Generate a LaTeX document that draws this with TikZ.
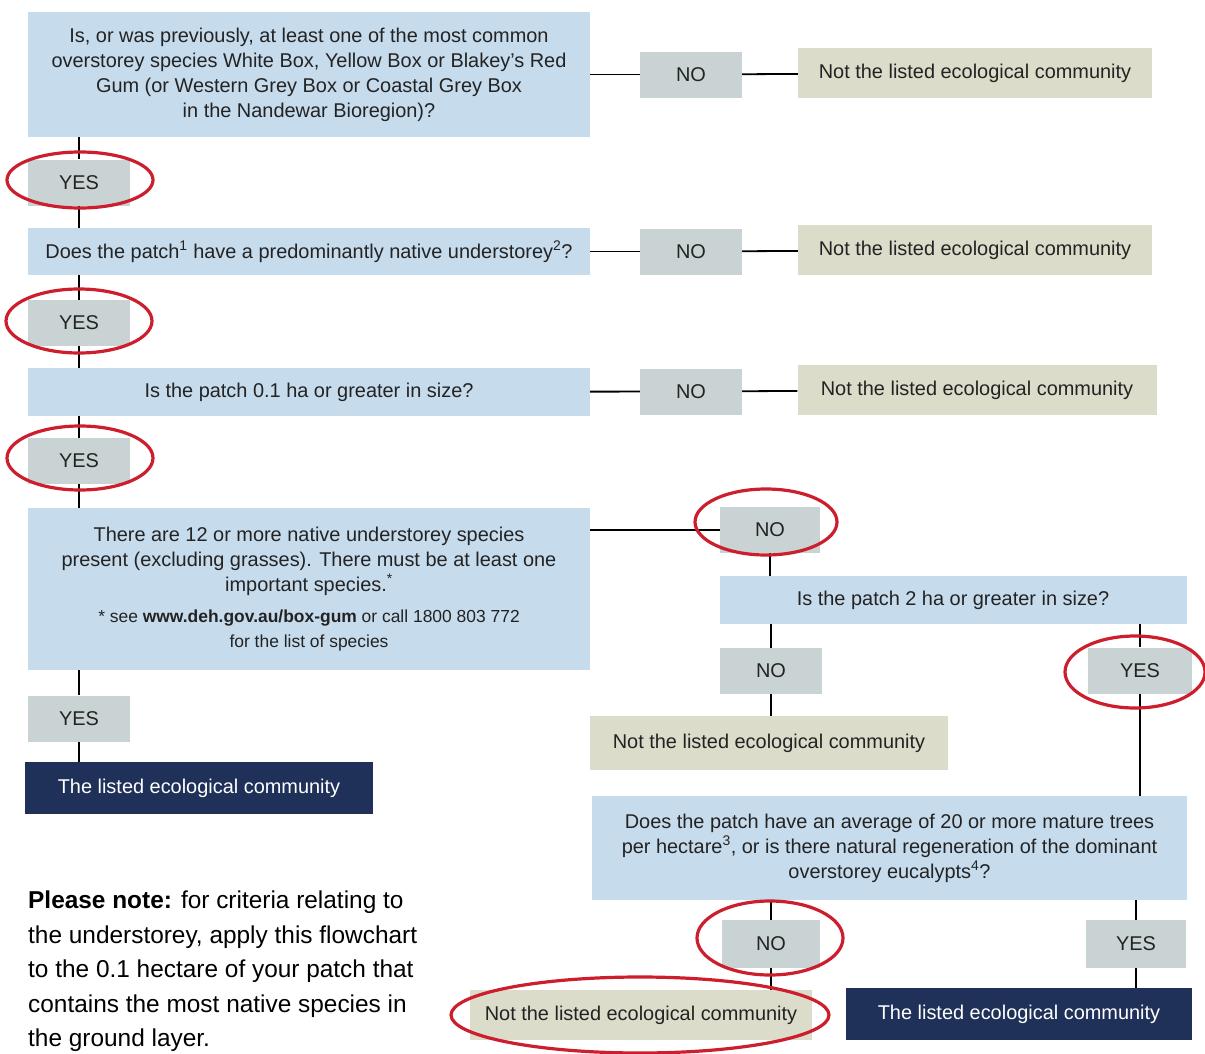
\documentclass[tikz,border=0pt]{standalone}
\usepackage{fontspec}
\setmainfont{Liberation Sans}
\definecolor{qblue}{RGB}{198,219,236}
\definecolor{ansgrey}{RGB}{201,211,211}
\definecolor{notkhaki}{RGB}{220,220,202}
\definecolor{listnavy}{RGB}{31,49,89}
\definecolor{ringred}{RGB}{204,30,45}
\definecolor{txtgrey}{RGB}{35,35,35}
\newcommand\boxsize{\fontsize{20}{25}\selectfont}
\newcommand\notesize{\fontsize{17.5}{23}\selectfont}
\newcommand\plsize{\fontsize{24.5}{34.6}\selectfont}
\begin{document}
\begin{tikzpicture}[line join=bevel,
  every node/.style={inner sep=0pt,text=txtgrey,font=\boxsize},
  qbox/.style={fill=qblue,align=center},
  ansbox/.style={fill=ansgrey,minimum width=102bp,minimum height=46bp},
  notbox/.style={fill=notkhaki,minimum height=50bp},
  listbox/.style={fill=listnavy,text=white,minimum height=52bp},
  ring/.style={draw=ringred,line width=3.2bp},
  link/.style={black,line width=1.8bp}]
\useasboundingbox (0bp,0bp) rectangle (1205bp,-1054bp);
%%
\node (q1) at (309bp,-74.5bp) [qbox,minimum width=562bp,minimum height=125bp] {Is, or was previously, at least one of the most common\\overstorey species White Box, Yellow Box or Blakey's Red\\Gum (or Western Grey Box or Coastal Grey Box\\in the Nandewar Bioregion)?};
  \node (no1) at (691bp,-74.5bp) [ansbox] {NO};
  \node (not1) at (975bp,-73bp) [notbox,minimum width=354bp] {Not the listed ecological community};
  \node (yes1) at (79bp,-182.5bp) [ansbox] {YES};
\node (q2) at (309bp,-251.5bp) [qbox,minimum width=562bp,minimum height=47bp] {Does the patch\textsuperscript{1} have a predominantly native understorey\textsuperscript{2}?};
  \node (no2) at (691bp,-251.5bp) [ansbox] {NO};
  \node (not2) at (975bp,-250bp) [notbox,minimum width=354bp] {Not the listed ecological community};
  \node (yes2) at (79bp,-323bp) [ansbox] {YES};
\node (q3) at (309bp,-392bp) [qbox,minimum width=562bp,minimum height=48bp] {Is the patch 0.1 ha or greater in size?};
  \node (no3) at (691bp,-391.5bp) [ansbox] {NO};
  \node (not3) at (977bp,-390bp) [notbox,minimum width=359bp] {Not the listed ecological community};
  \node (yes3) at (79bp,-461bp) [ansbox] {YES};
\node (q4) at (309bp,-589bp) [qbox,minimum width=562bp,minimum height=162bp] {There are 12 or more native understorey species\\present (excluding grasses). There must be at least one\\important species.\textsuperscript{*}\\[6bp]{\notesize * see \textbf{www.deh.gov.au/box-gum} or call 1800 803 772}\\{\notesize for the list of species}};
  \node (yes4) at (79bp,-718.5bp) [ansbox] {YES};
  \node (list4) at (199bp,-788bp) [listbox,minimum width=348bp] {The listed ecological community};
  \node (no4) at (770bp,-530bp) [ansbox,minimum width=100bp] {NO};
\node (q5) at (953bp,-600bp) [qbox,minimum width=467bp,minimum height=48bp] {Is the patch 2 ha or greater in size?};
  \node (no5) at (771bp,-671bp) [ansbox] {NO};
  \node (not5) at (769bp,-743bp) [notbox,minimum width=358bp,minimum height=54bp] {Not the listed ecological community};
  \node (yes5) at (1140bp,-670.5bp) [ansbox,minimum width=104bp] {YES};
\node (q6) at (889.5bp,-848bp) [qbox,minimum width=595bp,minimum height=104bp] {Does the patch have an average of 20 or more mature trees\\per hectare\textsuperscript{3}, or is there natural regeneration of the dominant\\overstorey eucalypts\textsuperscript{4}?};
  \node (no6) at (771bp,-944bp) [ansbox,minimum width=98bp,minimum height=48bp] {NO};
  \node (yes6) at (1136bp,-944bp) [ansbox,minimum width=100bp,minimum height=48bp] {YES};
  \node (not6) at (641bp,-1015bp) [notbox,minimum width=342bp] {Not the listed ecological community};
  \node (list6) at (1019bp,-1014bp) [listbox,minimum width=346bp] {The listed ecological community};
\node (plnote) at (28bp,-891bp) [anchor=north west,align=left,font=\plsize,text=black] {\textbf{Please note:} for criteria relating to\\the understorey, apply this flowchart\\to the 0.1 hectare of your patch that\\contains the most native species in\\the ground layer.};
%
  \draw [link] (q1) -- (no1);
  \draw [link] (no1) -- (not1);
  \draw [link] (yes1 |- q1.south) -- (yes1);
  \draw [link] (yes1) -- (yes1 |- q2.north);
  \draw [link] (q2) -- (no2);
  \draw [link] (no2) -- (not2);
  \draw [link] (yes2 |- q2.south) -- (yes2);
  \draw [link] (yes2) -- (yes2 |- q3.north);
  \draw [link] (q3) -- (no3);
  \draw [link] (no3) -- (not3);
  \draw [link] (yes3 |- q3.south) -- (yes3);
  \draw [link] (yes3) -- (yes3 |- q4.north);
  \draw [link] (yes4 |- q4.south) -- (yes4);
  \draw [link] (yes4) -- (yes4 |- list4.north);
  \draw [link] (q4.east |- no4) -- (no4);
  \draw [link] (no4) -- (no4 |- q5.north);
  \draw [link] (no5 |- q5.south) -- (no5);
  \draw [link] (no5) -- (no5 |- not5.north);
  \draw [link] (yes5 |- q5.south) -- (yes5);
  \draw [link] (yes5) -- (yes5 |- q6.north);
  \draw [link] (no6 |- q6.south) -- (no6);
  \draw [link] (no6) -- (no6 |- not6.north);
  \draw [link] (yes6 |- q6.south) -- (yes6);
  \draw [link] (yes6) -- (yes6 |- list6.north);
%
  \draw [ring] (80bp,-180bp) ellipse (73bp and 28bp);
  \draw [ring] (79bp,-321bp) ellipse (73bp and 32bp);
  \draw [ring] (80bp,-458bp) ellipse (73bp and 32bp);
  \draw [ring] (766bp,-522bp) ellipse (71bp and 33bp);
  \draw [ring] (1135bp,-672bp) ellipse (70bp and 36bp);
  \draw [ring] (770bp,-938bp) ellipse (73bp and 37bp);
  \draw [ring] (640bp,-1015bp) ellipse (189bp and 38bp);
%
\end{tikzpicture}
\end{document}
